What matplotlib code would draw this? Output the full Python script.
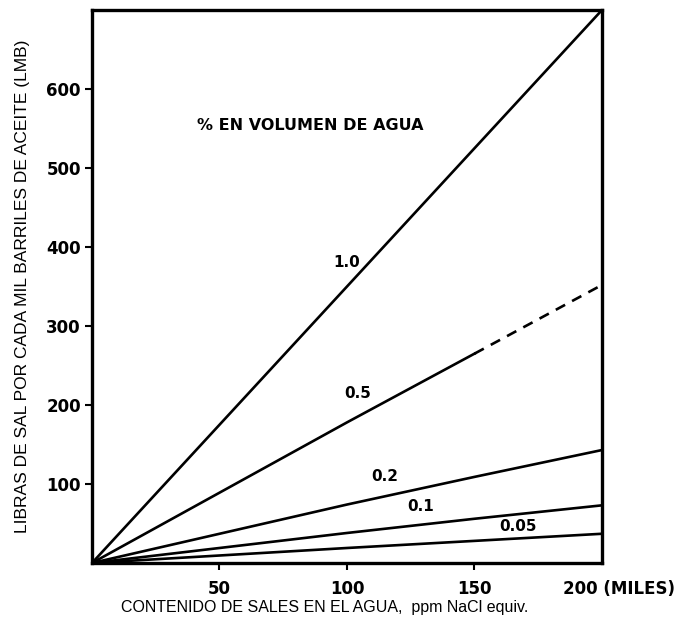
import matplotlib
matplotlib.use("Agg")
import matplotlib.pyplot as plt
import matplotlib.transforms as mtrans

# Data (x in thousands of ppm)
x = [0, 50, 100, 150, 200]
y_10 = [0, 175, 350, 525, 700]
y_05 = [0, 89, 178, 265, 352]
y_05_dash_x = [150, 200]
y_05_dash = [265, 352]
y_02 = [0, 37, 74, 109, 143]
y_01 = [0, 19, 38, 56, 73]
y_005 = [0, 9.5, 19, 28, 37]

curve_labels = ["1.0", "0.5", "0.2", "0.1", "0.05"]
label_pos = [(100, 381), (104, 215), (115, 110), (129, 72), (167, 46)]

xticks = [50, 100, 150, 200]
xtick_labels = ["50", "100", "150", "200 (MILES)"]
yticks = [100, 200, 300, 400, 500, 600]
ytick_labels = ["100", "200", "300", "400", "500", "600"]

fig = plt.figure(figsize=(6.87, 6.23), dpi=100)
ax = fig.add_axes([92/687, 60/623, 510/687, 553/623])

lw = 1.9
ax.plot(x, y_10, color="black", lw=lw)
ax.plot(x[:4], y_05[:4], color="black", lw=lw)
ax.plot(y_05_dash_x, y_05_dash, color="black", lw=lw, ls=(0, (4, 3)))
ax.plot(x, y_02, color="black", lw=lw)
ax.plot(x, y_01, color="black", lw=lw)
ax.plot(x, y_005, color="black", lw=lw)

for t, (lx, ly) in zip(curve_labels, label_pos):
    ax.text(lx, ly, t, fontsize=11, fontweight="bold", ha="center", va="center",
            family="DejaVu Sans")

ax.text(41, 554, "% EN VOLUMEN DE AGUA", fontsize=11.5, fontweight="bold",
        ha="left", va="center", family="DejaVu Sans")

ax.set_xlim(0, 200)
ax.set_ylim(0, 700)
ax.set_xticks(xticks)
ax.set_xticklabels(xtick_labels, fontsize=12, fontweight="bold")
ax.set_yticks(yticks)
ax.set_yticklabels(ytick_labels, fontsize=12, fontweight="bold")
ax.tick_params(axis="x", direction="out", length=5, width=1.5, pad=7)
ax.tick_params(axis="y", direction="out", length=5, width=1.5, pad=3)
labs = ax.get_xticklabels()
offset = mtrans.ScaledTranslation(17/100, 0, fig.dpi_scale_trans)
labs[-1].set_transform(labs[-1].get_transform() + offset)
ax.xaxis.get_major_ticks()[-1].tick1line.set_visible(False)

for s in ax.spines.values():
    s.set_linewidth(2.4)

ax.set_xlabel("CONTENIDO DE SALES EN EL AGUA,  ppm NaCl equiv.", fontsize=11.5,
              family="Liberation Sans")
ax.xaxis.set_label_coords((325 - 92) / 510, -0.067)
ax.set_ylabel("LIBRAS DE SAL POR CADA MIL BARRILES DE ACEITE (LMB)", fontsize=12.5,
              family="Liberation Sans", labelpad=12)

fig.savefig("out.png", dpi=100)
